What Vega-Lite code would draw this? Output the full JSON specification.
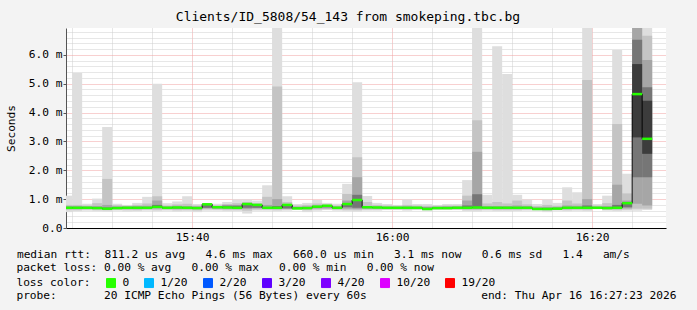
{
  "$schema": "https://vega.github.io/schema/vega-lite/v6.json",
  "width": 600,
  "height": 200,
  "autosize": {"type": "none"},
  "padding": {"left": 66, "top": 28, "right": 31, "bottom": 82},
  "background": "#f3f3f3",
  "view": {"fill": "white", "stroke": null},
  "config": {
    "font": "DejaVu Sans Mono",
    "axis": {"labelFont": "DejaVu Sans Mono", "titleFont": "DejaVu Sans Mono", "labelColor": "#000", "titleColor": "#000", "titleFontWeight": "normal", "labelFontSize": 11.2, "titleFontSize": 11.2, "labelOverlap": false}
  },
  "title": {"text": "Clients/ID_5808/54_143 from smokeping.tbc.bg", "font": "DejaVu Sans Mono", "fontSize": 13, "fontWeight": "normal", "color": "#000", "anchor": "middle", "dx": -18, "offset": 2},
  "data": {"values": [
    {"t":"2026-04-16T15:27:00","t2":"2026-04-16T15:28:00","a0":0.55,"a1":1.12,"b0":0.62,"b1":0.80,"c0":0.66,"c1":0.76,"d0":0.68,"d1":0.71,"m":0.70,"loss":"0"},
    {"t":"2026-04-16T15:28:00","t2":"2026-04-16T15:29:00","a0":0.58,"a1":5.37,"b0":0.62,"b1":0.80,"c0":0.66,"c1":0.76,"d0":0.68,"d1":0.71,"m":0.70,"loss":"0"},
    {"t":"2026-04-16T15:29:00","t2":"2026-04-16T15:30:00","a0":0.60,"a1":0.84,"b0":0.64,"b1":0.78,"c0":0.67,"c1":0.75,"d0":0.69,"d1":0.71,"m":0.70,"loss":"0"},
    {"t":"2026-04-16T15:30:00","t2":"2026-04-16T15:31:00","a0":0.58,"a1":1.02,"b0":0.63,"b1":0.86,"c0":0.67,"c1":0.76,"d0":0.68,"d1":0.71,"m":0.69,"loss":"0"},
    {"t":"2026-04-16T15:31:00","t2":"2026-04-16T15:32:00","a0":0.57,"a1":3.50,"b0":0.62,"b1":1.70,"c0":0.65,"c1":0.80,"d0":0.66,"d1":0.71,"m":0.67,"loss":"0"},
    {"t":"2026-04-16T15:32:00","t2":"2026-04-16T15:33:00","a0":0.60,"a1":0.84,"b0":0.64,"b1":0.79,"c0":0.67,"c1":0.75,"d0":0.68,"d1":0.71,"m":0.69,"loss":"0"},
    {"t":"2026-04-16T15:33:00","t2":"2026-04-16T15:34:00","a0":0.57,"a1":0.80,"b0":0.63,"b1":0.77,"c0":0.67,"c1":0.75,"d0":0.69,"d1":0.71,"m":0.70,"loss":"0"},
    {"t":"2026-04-16T15:34:00","t2":"2026-04-16T15:35:00","a0":0.58,"a1":0.87,"b0":0.62,"b1":0.80,"c0":0.66,"c1":0.76,"d0":0.68,"d1":0.71,"m":0.70,"loss":"0"},
    {"t":"2026-04-16T15:35:00","t2":"2026-04-16T15:36:00","a0":0.60,"a1":1.08,"b0":0.64,"b1":0.85,"c0":0.67,"c1":0.77,"d0":0.69,"d1":0.72,"m":0.70,"loss":"0"},
    {"t":"2026-04-16T15:36:00","t2":"2026-04-16T15:37:00","a0":0.58,"a1":5.00,"b0":0.63,"b1":1.10,"c0":0.68,"c1":0.95,"d0":0.70,"d1":0.80,"m":0.73,"loss":"0"},
    {"t":"2026-04-16T15:37:00","t2":"2026-04-16T15:38:00","a0":0.60,"a1":0.86,"b0":0.64,"b1":0.78,"c0":0.67,"c1":0.75,"d0":0.69,"d1":0.71,"m":0.70,"loss":"0"},
    {"t":"2026-04-16T15:38:00","t2":"2026-04-16T15:39:00","a0":0.57,"a1":0.92,"b0":0.62,"b1":0.82,"c0":0.66,"c1":0.77,"d0":0.68,"d1":0.72,"m":0.71,"loss":"0"},
    {"t":"2026-04-16T15:39:00","t2":"2026-04-16T15:40:00","a0":0.58,"a1":1.10,"b0":0.63,"b1":0.84,"c0":0.67,"c1":0.76,"d0":0.69,"d1":0.71,"m":0.70,"loss":"0"},
    {"t":"2026-04-16T15:40:00","t2":"2026-04-16T15:41:00","a0":0.55,"a1":0.83,"b0":0.61,"b1":0.78,"c0":0.66,"c1":0.75,"d0":0.68,"d1":0.71,"m":0.69,"loss":"0"},
    {"t":"2026-04-16T15:41:00","t2":"2026-04-16T15:42:00","a0":0.60,"a1":0.86,"b0":0.65,"b1":0.84,"c0":0.68,"c1":0.83,"d0":0.70,"d1":0.81,"m":0.82,"loss":"0"},
    {"t":"2026-04-16T15:42:00","t2":"2026-04-16T15:43:00","a0":0.60,"a1":0.84,"b0":0.64,"b1":0.79,"c0":0.67,"c1":0.76,"d0":0.69,"d1":0.73,"m":0.72,"loss":"0"},
    {"t":"2026-04-16T15:43:00","t2":"2026-04-16T15:44:00","a0":0.58,"a1":0.90,"b0":0.63,"b1":0.83,"c0":0.67,"c1":0.80,"d0":0.69,"d1":0.77,"m":0.71,"loss":"0"},
    {"t":"2026-04-16T15:44:00","t2":"2026-04-16T15:45:00","a0":0.58,"a1":0.99,"b0":0.63,"b1":0.86,"c0":0.67,"c1":0.80,"d0":0.69,"d1":0.77,"m":0.70,"loss":"0"},
    {"t":"2026-04-16T15:45:00","t2":"2026-04-16T15:46:00","a0":0.50,"a1":0.99,"b0":0.60,"b1":0.90,"c0":0.66,"c1":0.85,"d0":0.70,"d1":0.82,"m":0.83,"loss":"0"},
    {"t":"2026-04-16T15:46:00","t2":"2026-04-16T15:47:00","a0":0.60,"a1":0.95,"b0":0.64,"b1":0.86,"c0":0.68,"c1":0.82,"d0":0.70,"d1":0.79,"m":0.80,"loss":"0"},
    {"t":"2026-04-16T15:47:00","t2":"2026-04-16T15:48:00","a0":0.60,"a1":1.48,"b0":0.64,"b1":1.08,"c0":0.67,"c1":0.80,"d0":0.69,"d1":0.73,"m":0.70,"loss":"0"},
    {"t":"2026-04-16T15:48:00","t2":"2026-04-16T15:49:00","a0":0.58,"a1":6.93,"b0":0.63,"b1":4.90,"c0":0.67,"c1":1.00,"d0":0.69,"d1":0.76,"m":0.70,"loss":"0"},
    {"t":"2026-04-16T15:49:00","t2":"2026-04-16T15:50:00","a0":0.60,"a1":1.10,"b0":0.64,"b1":0.90,"c0":0.66,"c1":0.82,"d0":0.68,"d1":0.80,"m":0.80,"loss":"0"},
    {"t":"2026-04-16T15:50:00","t2":"2026-04-16T15:51:00","a0":0.62,"a1":0.83,"b0":0.65,"b1":0.78,"c0":0.67,"c1":0.74,"d0":0.68,"d1":0.70,"m":0.68,"loss":"0"},
    {"t":"2026-04-16T15:51:00","t2":"2026-04-16T15:52:00","a0":0.55,"a1":0.87,"b0":0.62,"b1":0.80,"c0":0.66,"c1":0.75,"d0":0.68,"d1":0.71,"m":0.69,"loss":"0"},
    {"t":"2026-04-16T15:52:00","t2":"2026-04-16T15:53:00","a0":0.60,"a1":0.97,"b0":0.64,"b1":0.85,"c0":0.68,"c1":0.78,"d0":0.70,"d1":0.75,"m":0.74,"loss":"0"},
    {"t":"2026-04-16T15:53:00","t2":"2026-04-16T15:54:00","a0":0.62,"a1":0.87,"b0":0.65,"b1":0.82,"c0":0.68,"c1":0.79,"d0":0.72,"d1":0.77,"m":0.77,"loss":"0"},
    {"t":"2026-04-16T15:54:00","t2":"2026-04-16T15:55:00","a0":0.60,"a1":0.84,"b0":0.64,"b1":0.78,"c0":0.67,"c1":0.75,"d0":0.69,"d1":0.71,"m":0.70,"loss":"0"},
    {"t":"2026-04-16T15:55:00","t2":"2026-04-16T15:56:00","a0":0.58,"a1":1.53,"b0":0.63,"b1":1.18,"c0":0.67,"c1":0.95,"d0":0.72,"d1":0.83,"m":0.83,"loss":"0"},
    {"t":"2026-04-16T15:56:00","t2":"2026-04-16T15:57:00","a0":0.57,"a1":5.05,"b0":0.62,"b1":2.45,"c0":0.66,"c1":1.76,"d0":0.70,"d1":1.15,"m":0.97,"loss":"0"},
    {"t":"2026-04-16T15:57:00","t2":"2026-04-16T15:58:00","a0":0.60,"a1":1.11,"b0":0.64,"b1":0.90,"c0":0.67,"c1":0.76,"d0":0.69,"d1":0.72,"m":0.72,"loss":"0"},
    {"t":"2026-04-16T15:58:00","t2":"2026-04-16T15:59:00","a0":0.60,"a1":0.87,"b0":0.64,"b1":0.80,"c0":0.67,"c1":0.75,"d0":0.69,"d1":0.72,"m":0.71,"loss":"0"},
    {"t":"2026-04-16T15:59:00","t2":"2026-04-16T16:00:00","a0":0.62,"a1":0.83,"b0":0.65,"b1":0.78,"c0":0.67,"c1":0.74,"d0":0.69,"d1":0.71,"m":0.70,"loss":"0"},
    {"t":"2026-04-16T16:00:00","t2":"2026-04-16T16:01:00","a0":0.62,"a1":0.80,"b0":0.65,"b1":0.77,"c0":0.67,"c1":0.74,"d0":0.69,"d1":0.71,"m":0.70,"loss":"0"},
    {"t":"2026-04-16T16:01:00","t2":"2026-04-16T16:02:00","a0":0.60,"a1":0.99,"b0":0.64,"b1":0.80,"c0":0.67,"c1":0.75,"d0":0.69,"d1":0.71,"m":0.70,"loss":"0"},
    {"t":"2026-04-16T16:02:00","t2":"2026-04-16T16:03:00","a0":0.62,"a1":0.83,"b0":0.65,"b1":0.78,"c0":0.67,"c1":0.74,"d0":0.69,"d1":0.71,"m":0.70,"loss":"0"},
    {"t":"2026-04-16T16:03:00","t2":"2026-04-16T16:04:00","a0":0.60,"a1":0.83,"b0":0.63,"b1":0.77,"c0":0.65,"c1":0.73,"d0":0.66,"d1":0.70,"m":0.66,"loss":"0"},
    {"t":"2026-04-16T16:04:00","t2":"2026-04-16T16:05:00","a0":0.62,"a1":0.80,"b0":0.65,"b1":0.77,"c0":0.67,"c1":0.74,"d0":0.68,"d1":0.71,"m":0.69,"loss":"0"},
    {"t":"2026-04-16T16:05:00","t2":"2026-04-16T16:06:00","a0":0.62,"a1":0.83,"b0":0.65,"b1":0.78,"c0":0.67,"c1":0.75,"d0":0.68,"d1":0.71,"m":0.69,"loss":"0"},
    {"t":"2026-04-16T16:06:00","t2":"2026-04-16T16:07:00","a0":0.62,"a1":0.83,"b0":0.65,"b1":0.78,"c0":0.67,"c1":0.75,"d0":0.69,"d1":0.71,"m":0.70,"loss":"0"},
    {"t":"2026-04-16T16:07:00","t2":"2026-04-16T16:08:00","a0":0.58,"a1":1.66,"b0":0.63,"b1":1.12,"c0":0.67,"c1":0.95,"d0":0.69,"d1":0.78,"m":0.70,"loss":"0"},
    {"t":"2026-04-16T16:08:00","t2":"2026-04-16T16:09:00","a0":0.57,"a1":6.93,"b0":0.62,"b1":3.73,"c0":0.66,"c1":2.64,"d0":0.69,"d1":1.17,"m":0.71,"loss":"0"},
    {"t":"2026-04-16T16:09:00","t2":"2026-04-16T16:10:00","a0":0.60,"a1":1.15,"b0":0.64,"b1":0.85,"c0":0.67,"c1":0.76,"d0":0.69,"d1":0.72,"m":0.70,"loss":"0"},
    {"t":"2026-04-16T16:10:00","t2":"2026-04-16T16:11:00","a0":0.58,"a1":6.30,"b0":0.63,"b1":0.90,"c0":0.67,"c1":0.76,"d0":0.69,"d1":0.72,"m":0.70,"loss":"0"},
    {"t":"2026-04-16T16:11:00","t2":"2026-04-16T16:12:00","a0":0.58,"a1":5.34,"b0":0.63,"b1":0.85,"c0":0.67,"c1":0.76,"d0":0.69,"d1":0.72,"m":0.70,"loss":"0"},
    {"t":"2026-04-16T16:12:00","t2":"2026-04-16T16:13:00","a0":0.59,"a1":1.15,"b0":0.63,"b1":0.95,"c0":0.67,"c1":0.78,"d0":0.69,"d1":0.72,"m":0.70,"loss":"0"},
    {"t":"2026-04-16T16:13:00","t2":"2026-04-16T16:14:00","a0":0.60,"a1":0.99,"b0":0.64,"b1":0.82,"c0":0.67,"c1":0.76,"d0":0.69,"d1":0.71,"m":0.70,"loss":"0"},
    {"t":"2026-04-16T16:14:00","t2":"2026-04-16T16:15:00","a0":0.60,"a1":0.83,"b0":0.63,"b1":0.76,"c0":0.65,"c1":0.72,"d0":0.66,"d1":0.69,"m":0.66,"loss":"0"},
    {"t":"2026-04-16T16:15:00","t2":"2026-04-16T16:16:00","a0":0.55,"a1":0.99,"b0":0.61,"b1":0.80,"c0":0.64,"c1":0.73,"d0":0.66,"d1":0.69,"m":0.66,"loss":"0"},
    {"t":"2026-04-16T16:16:00","t2":"2026-04-16T16:17:00","a0":0.60,"a1":0.87,"b0":0.63,"b1":0.77,"c0":0.65,"c1":0.73,"d0":0.66,"d1":0.69,"m":0.67,"loss":"0"},
    {"t":"2026-04-16T16:17:00","t2":"2026-04-16T16:18:00","a0":0.58,"a1":1.41,"b0":0.63,"b1":0.95,"c0":0.67,"c1":0.78,"d0":0.69,"d1":0.72,"m":0.70,"loss":"0"},
    {"t":"2026-04-16T16:18:00","t2":"2026-04-16T16:19:00","a0":0.60,"a1":1.24,"b0":0.64,"b1":0.85,"c0":0.67,"c1":0.77,"d0":0.69,"d1":0.72,"m":0.70,"loss":"0"},
    {"t":"2026-04-16T16:19:00","t2":"2026-04-16T16:20:00","a0":0.58,"a1":6.93,"b0":0.63,"b1":5.13,"c0":0.67,"c1":1.00,"d0":0.69,"d1":0.78,"m":0.70,"loss":"0"},
    {"t":"2026-04-16T16:20:00","t2":"2026-04-16T16:21:00","a0":0.66,"a1":0.83,"b0":0.67,"b1":0.78,"c0":0.68,"c1":0.74,"d0":0.69,"d1":0.71,"m":0.70,"loss":"0"},
    {"t":"2026-04-16T16:21:00","t2":"2026-04-16T16:22:00","a0":0.60,"a1":1.12,"b0":0.64,"b1":0.86,"c0":0.67,"c1":0.76,"d0":0.68,"d1":0.71,"m":0.69,"loss":"0"},
    {"t":"2026-04-16T16:22:00","t2":"2026-04-16T16:23:00","a0":0.58,"a1":6.17,"b0":0.63,"b1":3.60,"c0":0.67,"c1":1.50,"d0":0.69,"d1":0.80,"m":0.70,"loss":"0"},
    {"t":"2026-04-16T16:23:00","t2":"2026-04-16T16:24:00","a0":0.60,"a1":1.88,"b0":0.64,"b1":1.20,"c0":0.68,"c1":0.95,"d0":0.72,"d1":0.86,"m":0.86,"loss":"0"},
    {"t":"2026-04-16T16:24:00","t2":"2026-04-16T16:25:00","a0":0.60,"a1":6.93,"b0":0.67,"b1":6.93,"c0":0.84,"c1":6.93,"d0":1.76,"d1":6.52,"e0":3.14,"e1":5.68,"m":4.64,"loss":"0"},
    {"t":"2026-04-16T16:25:00","t2":"2026-04-16T16:26:00","a0":0.62,"a1":6.93,"b0":0.67,"b1":6.66,"c0":0.78,"c1":5.82,"d0":1.76,"d1":4.88,"e0":2.57,"e1":4.41,"m":3.09,"loss":"0"}
  ]},
  "layer": [
    {
      "mark": {"type": "rect", "color": "#dedede", "clip": true},
      "encoding": {
        "x": {"field": "t", "type": "temporal",
          "scale": {"domain": [{"year":2026,"month":4,"date":16,"hours":15,"minutes":27,"seconds":23},{"year":2026,"month":4,"date":16,"hours":16,"minutes":27,"seconds":23}], "nice": false},
          "axis": {"title": "median rtt:\u00a0\u00a0811.2 us avg\u00a0\u00a0\u00a04.6 ms max\u00a0\u00a0\u00a0660.0 us min\u00a0\u00a0\u00a03.1 ms now\u00a0\u00a0\u00a00.6 ms sd\u00a0\u00a0\u00a01.4\u00a0\u00a0\u00a0am/s",
            "titleX": -49.6, "titleY": 26, "titleAlign": "left", "titleBaseline": "middle",
            "values": [{"year":2026,"month":4,"date":16,"hours":15,"minutes":28},{"year":2026,"month":4,"date":16,"hours":15,"minutes":30},{"year":2026,"month":4,"date":16,"hours":15,"minutes":32},{"year":2026,"month":4,"date":16,"hours":15,"minutes":34},{"year":2026,"month":4,"date":16,"hours":15,"minutes":36},{"year":2026,"month":4,"date":16,"hours":15,"minutes":38},{"year":2026,"month":4,"date":16,"hours":15,"minutes":40},{"year":2026,"month":4,"date":16,"hours":15,"minutes":42},{"year":2026,"month":4,"date":16,"hours":15,"minutes":44},{"year":2026,"month":4,"date":16,"hours":15,"minutes":46},{"year":2026,"month":4,"date":16,"hours":15,"minutes":48},{"year":2026,"month":4,"date":16,"hours":15,"minutes":50},{"year":2026,"month":4,"date":16,"hours":15,"minutes":52},{"year":2026,"month":4,"date":16,"hours":15,"minutes":54},{"year":2026,"month":4,"date":16,"hours":15,"minutes":56},{"year":2026,"month":4,"date":16,"hours":15,"minutes":58},{"year":2026,"month":4,"date":16,"hours":16,"minutes":0},{"year":2026,"month":4,"date":16,"hours":16,"minutes":2},{"year":2026,"month":4,"date":16,"hours":16,"minutes":4},{"year":2026,"month":4,"date":16,"hours":16,"minutes":6},{"year":2026,"month":4,"date":16,"hours":16,"minutes":8},{"year":2026,"month":4,"date":16,"hours":16,"minutes":10},{"year":2026,"month":4,"date":16,"hours":16,"minutes":12},{"year":2026,"month":4,"date":16,"hours":16,"minutes":14},{"year":2026,"month":4,"date":16,"hours":16,"minutes":16},{"year":2026,"month":4,"date":16,"hours":16,"minutes":18},{"year":2026,"month":4,"date":16,"hours":16,"minutes":20},{"year":2026,"month":4,"date":16,"hours":16,"minutes":22},{"year":2026,"month":4,"date":16,"hours":16,"minutes":24},{"year":2026,"month":4,"date":16,"hours":16,"minutes":26}],
            "labelExpr": "minutes(datum.value) % 10 === 0 ? timeFormat(datum.value, '%H:%M') : ''",
            "labelOverlap": false, "labelPadding": 3, "ticks": false,
            "domainColor": "#000", "grid": true, "gridDash": [1, 1],
            "gridColor": {"condition": {"test": "minutes(datum.value) % 10 === 0", "value": "#f0a0a0"}, "value": "#cfcfcf"}}
        },
        "x2": {"field": "t2"},
        "y": {"field": "a0", "type": "quantitative", "scale": {"domain": [0, 6.93], "nice": false},
          "axis": {"title": "Seconds", "titleX": -55, "titleY": 100, "titleAngle": 270, "titleAlign": "center", "titleBaseline": "middle",
            "values": [0,0.2,0.4,0.6,0.8,1,1.2,1.4,1.6,1.8,2,2.2,2.4,2.6,2.8,3,3.2,3.4,3.6,3.8,4,4.2,4.4,4.6,4.8,5,5.2,5.4,5.6,5.8,6,6.2,6.4,6.6,6.8],
            "labelExpr": "abs(datum.value - round(datum.value)) < 0.01 ? (datum.value == 0 ? '0.0' : format(datum.value, '.1f') + ' m') : ''",
            "labelOverlap": false, "labelPadding": 1, "tickSize": 3,
            "tickColor": {"condition": {"test": "abs(datum.value - round(datum.value)) < 0.01", "value": "#555"}, "value": "transparent"},
            "domainColor": "#555", "grid": true, "gridDash": [1, 1],
            "gridColor": {"condition": {"test": "abs(datum.value - round(datum.value)) < 0.01", "value": "#f0a0a0"}, "value": "#cfcfcf"}}
        },
        "y2": {"field": "a1"}
      }
    },
    {
      "mark": {"type": "rect", "color": "#c4c4c4", "clip": true},
      "encoding": {
        "x": {"field": "t", "type": "temporal", "title": "median rtt:\u00a0\u00a0811.2 us avg\u00a0\u00a0\u00a04.6 ms max\u00a0\u00a0\u00a0660.0 us min\u00a0\u00a0\u00a03.1 ms now\u00a0\u00a0\u00a00.6 ms sd\u00a0\u00a0\u00a01.4\u00a0\u00a0\u00a0am/s"},
        "x2": {"field": "t2"},
        "y": {"field": "b0", "type": "quantitative", "title": "Seconds",
          "axis": {"values": [0,0.2,0.4,0.6,0.8,1,1.2,1.4,1.6,1.8,2,2.2,2.4,2.6,2.8,3,3.2,3.4,3.6,3.8,4,4.2,4.4,4.6,4.8,5,5.2,5.4,5.6,5.8,6,6.2,6.4,6.6,6.8]}},
        "y2": {"field": "b1"}
      }
    },
    {
      "mark": {"type": "rect", "color": "#a6a6a6", "clip": true},
      "encoding": {
        "x": {"field": "t", "type": "temporal", "title": "median rtt:\u00a0\u00a0811.2 us avg\u00a0\u00a0\u00a04.6 ms max\u00a0\u00a0\u00a0660.0 us min\u00a0\u00a0\u00a03.1 ms now\u00a0\u00a0\u00a00.6 ms sd\u00a0\u00a0\u00a01.4\u00a0\u00a0\u00a0am/s"},
        "x2": {"field": "t2"},
        "y": {"field": "c0", "type": "quantitative", "title": "Seconds",
          "axis": {"values": [0,0.2,0.4,0.6,0.8,1,1.2,1.4,1.6,1.8,2,2.2,2.4,2.6,2.8,3,3.2,3.4,3.6,3.8,4,4.2,4.4,4.6,4.8,5,5.2,5.4,5.6,5.8,6,6.2,6.4,6.6,6.8]}},
        "y2": {"field": "c1"}
      }
    },
    {
      "mark": {"type": "rect", "color": "#767676", "clip": true},
      "encoding": {
        "x": {"field": "t", "type": "temporal", "title": "median rtt:\u00a0\u00a0811.2 us avg\u00a0\u00a0\u00a04.6 ms max\u00a0\u00a0\u00a0660.0 us min\u00a0\u00a0\u00a03.1 ms now\u00a0\u00a0\u00a00.6 ms sd\u00a0\u00a0\u00a01.4\u00a0\u00a0\u00a0am/s"},
        "x2": {"field": "t2"},
        "y": {"field": "d0", "type": "quantitative", "title": "Seconds",
          "axis": {"values": [0,0.2,0.4,0.6,0.8,1,1.2,1.4,1.6,1.8,2,2.2,2.4,2.6,2.8,3,3.2,3.4,3.6,3.8,4,4.2,4.4,4.6,4.8,5,5.2,5.4,5.6,5.8,6,6.2,6.4,6.6,6.8]}},
        "y2": {"field": "d1"}
      }
    },
    {
      "mark": {"type": "rect", "color": "#3c3c3c", "clip": true},
      "encoding": {
        "x": {"field": "t", "type": "temporal", "title": "median rtt:\u00a0\u00a0811.2 us avg\u00a0\u00a0\u00a04.6 ms max\u00a0\u00a0\u00a0660.0 us min\u00a0\u00a0\u00a03.1 ms now\u00a0\u00a0\u00a00.6 ms sd\u00a0\u00a0\u00a01.4\u00a0\u00a0\u00a0am/s"},
        "x2": {"field": "t2"},
        "y": {"field": "e0", "type": "quantitative", "title": "Seconds",
          "axis": {"values": [0,0.2,0.4,0.6,0.8,1,1.2,1.4,1.6,1.8,2,2.2,2.4,2.6,2.8,3,3.2,3.4,3.6,3.8,4,4.2,4.4,4.6,4.8,5,5.2,5.4,5.6,5.8,6,6.2,6.4,6.6,6.8]}},
        "y2": {"field": "e1"},
        "opacity": {"field": "loss", "type": "ordinal",
          "scale": {"domain": ["0", "1/20"], "range": [1, 1]},
          "legend": {"orient": "none", "legendX": -49.6, "legendY": 263, "direction": "horizontal", "values": ["0"],
            "title": "probe:\u00a0\u00a0\u00a0\u00a0\u00a0\u00a0\u00a020 ICMP Echo Pings (56 Bytes) every 60s\u00a0\u00a0\u00a0\u00a0\u00a0\u00a0\u00a0\u00a0\u00a0\u00a0\u00a0\u00a0\u00a0\u00a0\u00a0\u00a0\u00a0end: Thu Apr 16 16:27:23 2026",
            "titleOrient": "left", "titleLimit": 800, "titleFont": "DejaVu Sans Mono", "titleFontSize": 11.2, "titleFontWeight": "normal", "titleColor": "#000", "titlePadding": 0,
            "symbolSize": 0, "symbolFillColor": "transparent", "symbolStrokeColor": "transparent", "symbolStrokeWidth": 0, "labelExpr": "''", "labelOpacity": 0, "padding": 0}
        }
      }
    },
    {
      "mark": {"type": "line", "interpolate": "step-after", "color": "#000", "strokeWidth": 1, "clip": true},
      "encoding": {
        "x": {"field": "t", "type": "temporal", "title": "median rtt:\u00a0\u00a0811.2 us avg\u00a0\u00a0\u00a04.6 ms max\u00a0\u00a0\u00a0660.0 us min\u00a0\u00a0\u00a03.1 ms now\u00a0\u00a0\u00a00.6 ms sd\u00a0\u00a0\u00a01.4\u00a0\u00a0\u00a0am/s"},
        "y": {"field": "m", "type": "quantitative", "title": "Seconds",
          "axis": {"values": [0,0.2,0.4,0.6,0.8,1,1.2,1.4,1.6,1.8,2,2.2,2.4,2.6,2.8,3,3.2,3.4,3.6,3.8,4,4.2,4.4,4.6,4.8,5,5.2,5.4,5.6,5.8,6,6.2,6.4,6.6,6.8]}},
        "strokeDash": {"field": "loss", "type": "nominal",
          "scale": {"domain": ["0"], "range": [[1, 0]]},
          "legend": {"orient": "none", "legendX": -49.6, "legendY": 235, "direction": "horizontal",
            "title": "packet loss: 0.00 % avg\u00a0\u00a0\u00a00.00 % max\u00a0\u00a0\u00a00.00 % min\u00a0\u00a0\u00a00.00 % now",
            "titleOrient": "left", "titleLimit": 800, "titleFont": "DejaVu Sans Mono", "titleFontSize": 11.2, "titleFontWeight": "normal", "titleColor": "#000", "titlePadding": 4,
            "symbolOpacity": 0, "symbolStrokeWidth": 0, "labelExpr": "''", "labelOpacity": 0, "padding": 0}
        }
      }
    },
    {
      "mark": {"type": "rule", "strokeWidth": 2.5, "clip": true},
      "encoding": {
        "x": {"field": "t", "type": "temporal", "title": "median rtt:\u00a0\u00a0811.2 us avg\u00a0\u00a0\u00a04.6 ms max\u00a0\u00a0\u00a0660.0 us min\u00a0\u00a0\u00a03.1 ms now\u00a0\u00a0\u00a00.6 ms sd\u00a0\u00a0\u00a01.4\u00a0\u00a0\u00a0am/s"},
        "x2": {"field": "t2"},
        "y": {"field": "m", "type": "quantitative", "title": "Seconds",
          "axis": {"values": [0,0.2,0.4,0.6,0.8,1,1.2,1.4,1.6,1.8,2,2.2,2.4,2.6,2.8,3,3.2,3.4,3.6,3.8,4,4.2,4.4,4.6,4.8,5,5.2,5.4,5.6,5.8,6,6.2,6.4,6.6,6.8]}},
        "stroke": {"field": "loss", "type": "nominal", "legend": null,
          "scale": {"domain": ["0", "1/20", "2/20", "3/20", "4/20", "10/20", "19/20"], "range": ["#26ff00", "#00b8ff", "#0059ff", "#5e00ff", "#7e00ff", "#dd00ff", "#ff0000"]}},
        "fill": {"field": "loss", "type": "nominal",
          "scale": {"domain": ["0", "1/20", "2/20", "3/20", "4/20", "10/20", "19/20"], "range": ["#26ff00", "#00b8ff", "#0059ff", "#5e00ff", "#7e00ff", "#dd00ff", "#ff0000"]},
          "legend": {"orient": "none", "legendX": -49.6, "legendY": 249, "direction": "horizontal", "columns": 7,
            "title": "loss color:", "titleOrient": "left", "titleFont": "DejaVu Sans Mono", "titleFontSize": 11.2, "titleFontWeight": "normal", "titleColor": "#000", "titlePadding": 14,
            "symbolType": "square", "symbolSize": 81, "symbolStrokeColor": "#000", "symbolStrokeWidth": 1, "symbolOpacity": 1,
            "labelFont": "DejaVu Sans Mono", "labelFontSize": 11.2, "labelColor": "#000",
            "labelOffset": 6, "columnPadding": 13, "padding": 0}
        }
      }
    }
  ]
}
